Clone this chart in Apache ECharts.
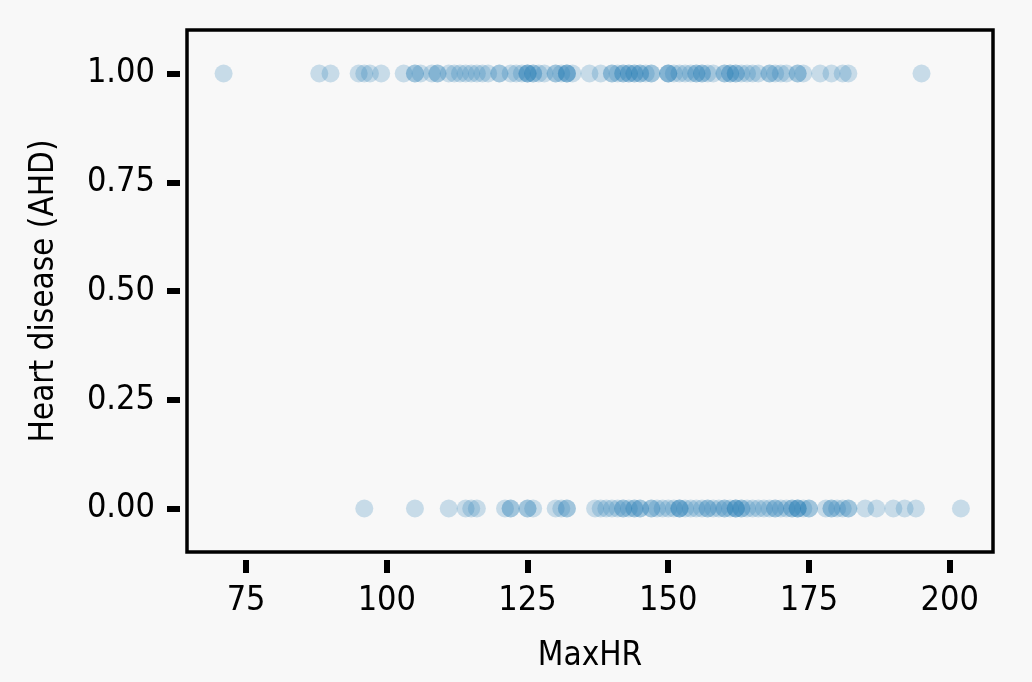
<!DOCTYPE html>
<html>
<head>
<meta charset="utf-8">
<script src="https://cdn.jsdelivr.net/npm/echarts@6/dist/echarts.min.js"></script>
<style>
  html, body { margin: 0; padding: 0; background: #f8f8f8; }
  #chart { width: 1032px; height: 682px; }
</style>
</head>
<body>
<div id="chart"></div>
<script>
// MaxHR of patients with heart disease (AHD = Yes -> 1)
const maxHrYes = [71, 88, 90, 95, 96, 97, 99, 103, 105, 105, 106, 108, 109, 109, 111, 112, 113,
  114, 115, 116, 117, 118, 120, 120, 122, 123, 124, 125, 125, 125, 126, 126, 127, 128, 130, 130,
  131, 132, 132, 132, 133, 136, 138, 140, 140, 141, 142, 142, 143, 143, 144, 144, 145, 145, 146,
  147, 147, 150, 150, 150, 151, 152, 153, 154, 155, 155, 156, 156, 157, 158, 160, 160, 161, 161,
  162, 162, 163, 164, 165, 166, 168, 168, 169, 170, 171, 173, 173, 174, 177, 179, 181, 182, 195];
// MaxHR of patients without heart disease (AHD = No -> 0)
const maxHrNo = [96, 105, 111, 114, 115, 116, 121, 122, 122, 125, 125, 126, 130, 131, 132, 132,
  137, 138, 139, 140, 141, 142, 142, 143, 144, 144, 145, 145, 147, 147, 148, 149, 150, 151, 152,
  152, 152, 153, 154, 155, 156, 157, 157, 158, 159, 160, 160, 161, 162, 162, 162, 163, 163, 164,
  165, 166, 167, 168, 169, 169, 170, 171, 172, 172, 173, 173, 173, 174, 175, 175, 178, 179, 179,
  180, 181, 182, 182, 185, 187, 190, 192, 194, 202];
const xTicks = [75, 100, 125, 150, 175, 200];
const yTicks = [0, 0.25, 0.5, 0.75, 1];

const FONT = '"DejaVu Sans Condensed", "Liberation Sans Narrow", "DejaVu Sans", sans-serif';
const chart = echarts.init(document.getElementById('chart'));

chart.setOption({
  backgroundColor: '#f8f8f8',
  animation: false,
  grid: {
    left: 187, right: 39, top: 30, bottom: 130,
    outerBoundsMode: 'none',
    containLabel: false,
    show: true, borderColor: '#000', borderWidth: 3.5, backgroundColor: 'transparent'
  },
  xAxis: {
    type: 'value',
    min: 64.5, max: 207.7,
    offset: 8,
    name: 'MaxHR',
    nameLocation: 'middle',
    nameGap: 80,
    nameTextStyle: { color: '#000', fontSize: 33, fontFamily: FONT },
    axisLine: { show: false, onZero: false },
    splitLine: { show: false },
    axisTick: { show: true, length: 13, customValues: xTicks, lineStyle: { color: '#000', width: 6 } },
    axisLabel: {
      customValues: xTicks, color: '#000', fontSize: 34, fontFamily: FONT, margin: 24
    }
  },
  yAxis: {
    type: 'value',
    min: -0.1, max: 1.1,
    offset: 7,
    name: 'Heart disease (AHD)',
    nameLocation: 'middle',
    nameGap: 119,
    nameRotate: 90,
    nameTextStyle: { color: '#000', fontSize: 33, fontFamily: FONT },
    axisLine: { show: false, onZero: false },
    splitLine: { show: false },
    axisTick: { show: true, length: 13, customValues: yTicks, lineStyle: { color: '#000', width: 6 } },
    axisLabel: {
      customValues: yTicks, color: '#000', fontSize: 34, fontFamily: FONT, margin: 25,
      formatter: v => v.toFixed(2)
    }
  },
  series: [
    {
      type: 'scatter',
      symbolSize: 18,
      itemStyle: { color: 'rgba(31,119,180,0.28)' },
      data: maxHrYes.map(v => [v, 1])
    },
    {
      type: 'scatter',
      symbolSize: 18,
      itemStyle: { color: 'rgba(31,119,180,0.28)' },
      data: maxHrNo.map(v => [v, 0])
    }
  ]
});
</script>
</body>
</html>
